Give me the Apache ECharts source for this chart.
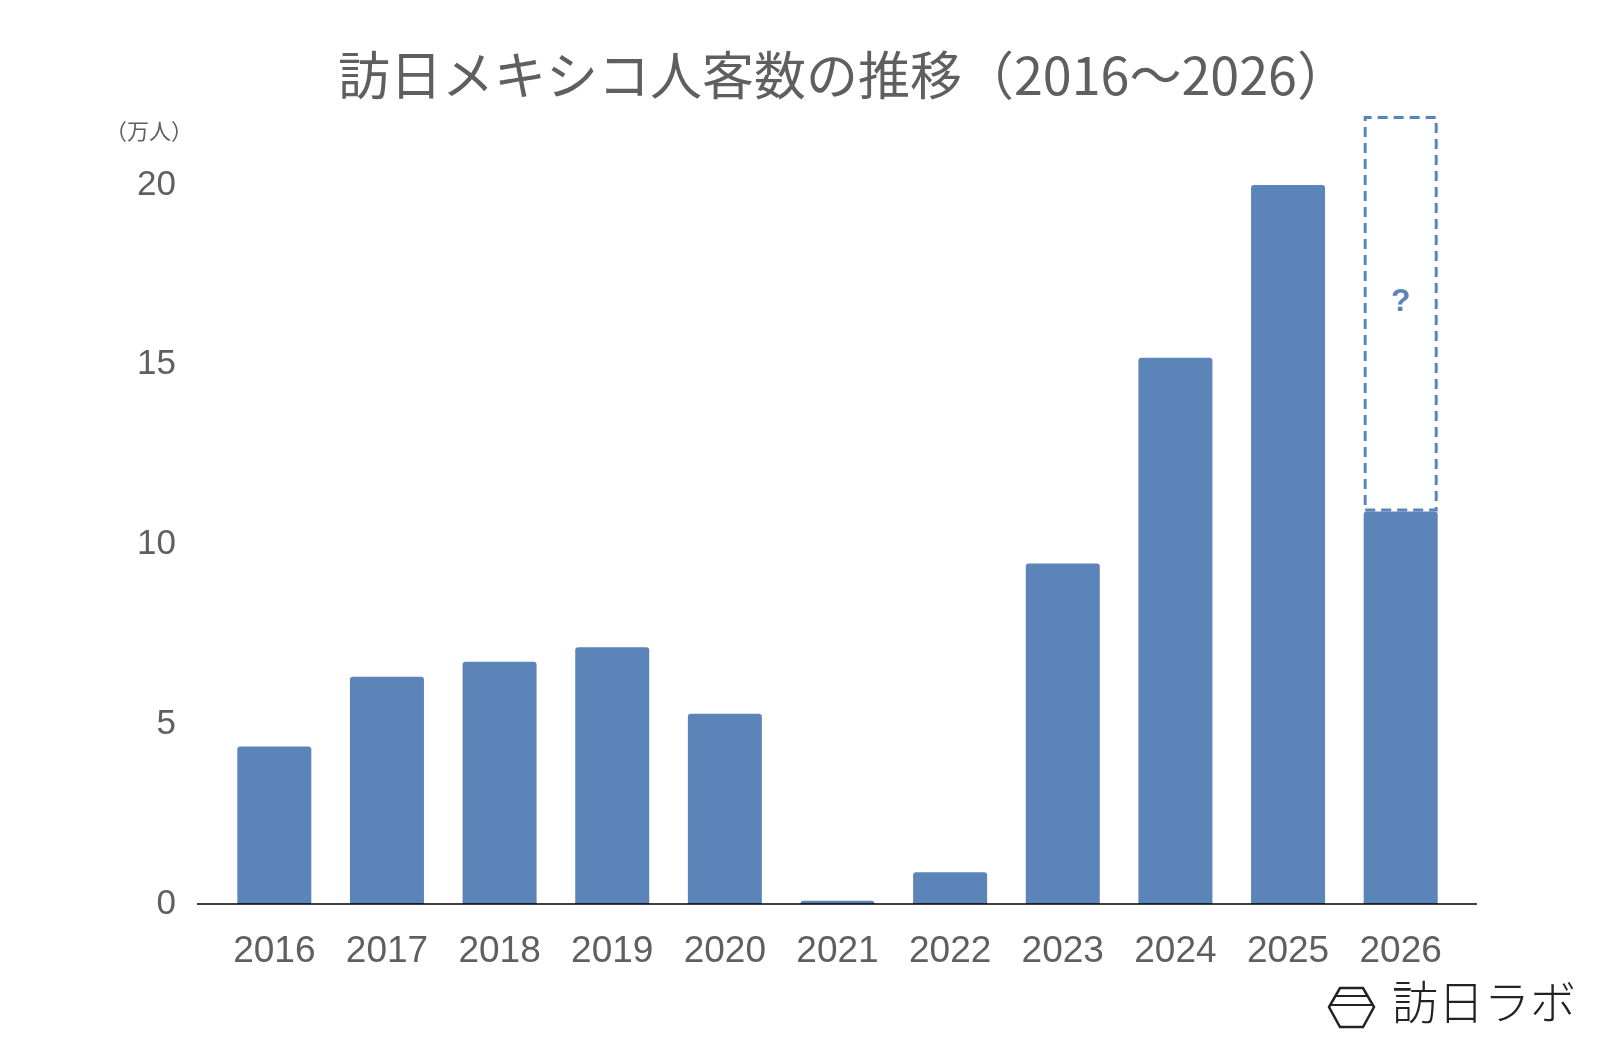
<!DOCTYPE html>
<html><head><meta charset="utf-8">
<script src="https://cdn.jsdelivr.net/npm/echarts@6/dist/echarts.min.js"></script>
<style>html,body{margin:0;background:#fff}#c{width:1600px;height:1048px}</style>
</head><body><div id="c"></div>
<script>
const years = ['2016','2017','2018','2019','2020','2021','2022','2023','2024','2025','2026'];
const visitors = [4.38, 6.32, 6.74, 7.14, 5.29, 0.09, 0.88, 9.47, 15.19, 20.0, 10.92];
// unknown remainder for 2026, drawn as dashed box
const outlook = [null, null, null, null, null, null, null, null, null, null, 11.0];
const yTicks = [0, 5, 10, 15, 20];

const BLUE = '#5b84b8';
const GREY = '#5f5f5f';
const chart = echarts.init(document.getElementById('c'));
chart.setOption({
  animation: false,
  backgroundColor: '#fff',
  title: {
    text: '訪日メキシコ人客数の推移（2016～2026）',
    left: 333, top: 44,
    textStyle: { fontSize: 52, fontWeight: 'normal', color: GREY, fontFamily: 'Noto Sans CJK JP' }
  },
  grid: { left: 218, right: 143, top: 113, bottom: 144 },
  xAxis: {
    type: 'category', data: years,
    axisLine: { show: false },
    axisTick: { show: false },
    axisLabel: { fontSize: 37, color: GREY, margin: 29, fontFamily: 'Liberation Sans' }
  },
  yAxis: {
    type: 'value', min: 0, max: 22, interval: 5,
    splitLine: { show: false },
    axisLabel: { fontSize: 35, color: GREY, margin: 42, fontFamily: 'Liberation Sans',
      formatter: v => yTicks.includes(v) ? String(v) : '' }
  },
  series: [{
    type: 'bar', data: visitors, stack: 's', barWidth: 74,
    itemStyle: { color: BLUE, borderRadius: [3, 3, 0, 0] }
  }, {
    type: 'bar', data: outlook, stack: 's', barWidth: 74,
    itemStyle: { color: 'transparent', borderColor: BLUE, borderWidth: 3, borderType: [10, 6] },
    label: { show: true, position: 'insideTop', distance: 170, formatter: '?',
      fontSize: 32, fontWeight: 'bold', color: BLUE }
  }],
  graphic: [
    { type: 'text', left: 105, top: 120, style: { text: '（万人）', fontSize: 22, fill: GREY, fontFamily: 'Noto Sans CJK JP' } },
    { type: 'line', z: 10, shape: { x1: 197, y1: 904, x2: 1477, y2: 904 }, style: { stroke: '#000', lineWidth: 1.5 } },
    { type: 'polygon', shape: { points: [[1340,988],[1363,988],[1374,1007],[1363,1027],[1340,1027],[1329,1007]] },
      style: { fill: 'none', stroke: '#222', lineWidth: 2.5 } },
    { type: 'line', shape: { x1: 1336, y1: 996, x2: 1367, y2: 996 }, style: { stroke: '#222', lineWidth: 2 } },
    { type: 'line', shape: { x1: 1331, y1: 1005, x2: 1372, y2: 1005 }, style: { stroke: '#222', lineWidth: 2 } },
    { type: 'text', left: 1392, top: 979, style: { text: '訪日ラボ', fontSize: 46, fontWeight: 300, fill: '#222', fontFamily: 'Noto Sans CJK JP' } }
  ]
});
</script></body></html>
